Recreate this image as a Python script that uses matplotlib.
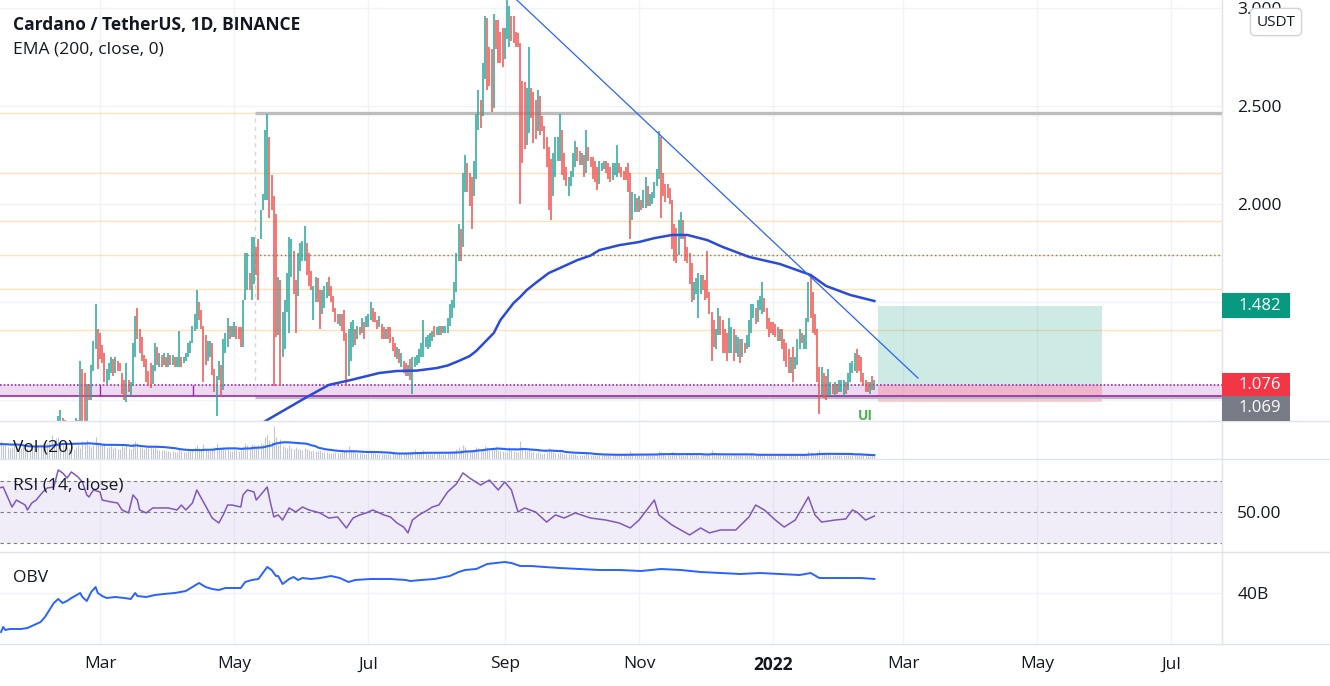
import numpy as np
import pandas as pd
import matplotlib
matplotlib.use("Agg")
import matplotlib.pyplot as plt
from matplotlib.patches import Rectangle
from matplotlib.lines import Line2D

plt.rcParams['font.family'] = ['Open Sans', 'DejaVu Sans']

start = pd.Timestamp("2021-01-01")

# daily ADA/USDT candles, one value per day from 1 Jan 2021
close = [
    0.18, 0.18, 0.20, 0.22, 0.26, 0.31, 0.33, 0.32, 0.30, 0.31, 0.30, 0.27, 0.29, 0.33, 0.36, 0.34, 0.37, 0.37, 0.36, 0.35, 0.31, 0.30, 0.33, 0.33, 0.35, 0.33, 0.34, 0.34, 0.36, 0.37, 0.39,
    0.40, 0.43, 0.45, 0.43, 0.49, 0.54, 0.68, 0.66, 0.72, 0.86, 0.90, 0.87, 0.86, 0.85, 0.86, 0.84, 0.86, 0.88, 0.87, 1.15, 0.95, 0.91, 1.04, 1.01, 1.16, 1.27, 1.34, 1.30,
    1.23, 1.20, 1.11, 1.12, 1.17, 1.19, 1.16, 1.19, 1.18, 1.16, 1.05, 1.04, 1.17, 1.06, 1.07, 1.27, 1.40, 1.33, 1.26, 1.21, 1.19, 1.10, 1.09, 1.08, 1.16, 1.27, 1.20, 1.22, 1.19, 1.21, 1.19,
    1.22, 1.19, 1.21, 1.19, 1.20, 1.33, 1.19, 1.21, 1.23, 1.27, 1.29, 1.35, 1.42, 1.45, 1.42, 1.37, 1.25, 1.21, 1.23, 1.24, 1.15, 1.06, 1.11, 1.18, 1.05, 1.27, 1.32, 1.39, 1.34, 1.36, 1.38,
    1.35, 1.34, 1.30, 1.48, 1.62, 1.70, 1.60, 1.78, 1.80, 1.69, 1.55, 1.94, 2.02, 2.32, 2.40, 2.05, 2.00, 1.55, 1.42, 1.58, 1.30, 1.38, 1.48, 1.60, 1.72, 1.74, 1.58, 1.52, 1.68, 1.76, 1.78,
    1.84, 1.70, 1.64, 1.56, 1.57, 1.60, 1.54, 1.45, 1.52, 1.55, 1.57, 1.55, 1.51, 1.47, 1.43, 1.40, 1.42, 1.37, 1.33, 1.20, 1.30, 1.35, 1.38, 1.31, 1.36, 1.34, 1.40, 1.36, 1.41, 1.42,
    1.47, 1.43, 1.41, 1.38, 1.40, 1.34, 1.33, 1.35, 1.32, 1.30, 1.27, 1.24, 1.25, 1.21, 1.22, 1.17, 1.14, 1.16, 1.12, 1.19, 1.21, 1.22, 1.25, 1.27, 1.30, 1.31, 1.32, 1.33, 1.34, 1.33, 1.36,
    1.37, 1.35, 1.36, 1.37, 1.40, 1.45, 1.48, 1.56, 1.72, 1.86, 1.78, 2.10, 2.18, 2.12, 2.05, 2.03, 2.15, 2.41, 2.52, 2.45, 2.66, 2.88, 2.75, 2.68, 2.55, 2.88, 2.82, 2.78, 2.76, 2.74, 2.86, 2.95,
    2.97, 2.88, 2.86, 2.84, 2.82, 2.40, 2.34, 2.31, 2.52, 2.55, 2.48, 2.40, 2.38, 2.50, 2.42, 2.40, 2.32, 2.22, 2.10, 2.04, 2.20, 2.28, 2.30, 2.38, 2.22, 2.16, 2.12, 2.13, 2.15, 2.22,
    2.28, 2.25, 2.23, 2.24, 2.18, 2.30, 2.24, 2.21, 2.16, 2.14, 2.10, 2.18, 2.20, 2.21, 2.18, 2.15, 2.13, 2.17, 2.19, 2.22, 2.17, 2.15, 2.13, 2.12, 2.08, 1.95, 2.02, 2.03, 1.98, 2.01, 1.99,
    2.04, 2.10, 2.02, 2.04, 2.05, 2.09, 2.15, 2.30, 2.08, 2.07, 2.04, 2.03, 2.01, 1.82, 1.78, 1.74, 1.86, 1.90, 1.85, 1.76, 1.73, 1.63, 1.55, 1.58, 1.60, 1.62, 1.63, 1.58, 1.55, 1.54,
    1.47, 1.38, 1.30, 1.33, 1.44, 1.36, 1.29, 1.27, 1.24, 1.30, 1.32, 1.25, 1.30, 1.31, 1.24, 1.27, 1.25, 1.30, 1.38, 1.45, 1.47, 1.43, 1.48, 1.50, 1.53, 1.47, 1.39, 1.36, 1.35, 1.34, 1.33,
    1.31, 1.33, 1.28, 1.23, 1.21, 1.19, 1.20, 1.16, 1.19, 1.28, 1.31, 1.30, 1.32, 1.40, 1.55, 1.47, 1.41, 1.36, 1.17, 1.05, 1.08, 1.05, 1.04, 1.05, 1.07, 1.05, 1.07, 1.05, 1.07, 1.08, 1.09,
    1.05, 1.12, 1.16, 1.18, 1.21, 1.18, 1.17, 1.11, 1.09, 1.07, 1.06, 1.08, 1.06, 1.069,
]
high = [
    0.19, 0.19, 0.21, 0.24, 0.27, 0.33, 0.36, 0.34, 0.33, 0.32, 0.32, 0.30, 0.30, 0.34, 0.38, 0.37, 0.38, 0.39, 0.38, 0.37, 0.36, 0.32, 0.34, 0.35, 0.36, 0.36, 0.35, 0.36, 0.37, 0.39, 0.41,
    0.42, 0.44, 0.47, 0.46, 0.50, 0.56, 0.70, 0.72, 0.74, 0.92, 0.95, 0.91, 0.90, 0.88, 0.89, 0.88, 0.89, 0.91, 0.90, 1.20, 1.16, 1.14, 1.08, 1.076, 1.18, 1.30, 1.49, 1.36,
    1.34, 1.28, 1.24, 1.16, 1.19, 1.22, 1.21, 1.22, 1.20, 1.19, 1.14, 1.10, 1.19, 1.10, 1.09, 1.29, 1.43, 1.47, 1.36, 1.32, 1.23, 1.21, 1.15, 1.19, 1.18, 1.29, 1.27, 1.24, 1.23, 1.24, 1.22,
    1.24, 1.23, 1.23, 1.22, 1.22, 1.35, 1.22, 1.22, 1.24, 1.29, 1.30, 1.38, 1.44, 1.56, 1.50, 1.46, 1.38, 1.33, 1.30, 1.30, 1.29, 1.16, 1.12, 1.20, 1.18, 1.31, 1.34, 1.42, 1.38, 1.38, 1.40,
    1.38, 1.37, 1.37, 1.51, 1.75, 1.75, 1.65, 1.83, 1.83, 1.78, 1.82, 1.97, 2.05, 2.38, 2.46, 2.34, 2.15, 2.04, 1.95, 1.63, 1.61, 1.45, 1.51, 1.65, 1.83, 1.82, 1.76, 1.61, 1.75, 1.80, 1.81,
    1.89, 1.80, 1.75, 1.66, 1.58, 1.63, 1.62, 1.56, 1.56, 1.58, 1.60, 1.63, 1.58, 1.53, 1.47, 1.44, 1.44, 1.44, 1.46, 1.34, 1.36, 1.40, 1.41, 1.36, 1.38, 1.37, 1.42, 1.40, 1.43, 1.44,
    1.50, 1.47, 1.45, 1.41, 1.43, 1.39, 1.37, 1.36, 1.37, 1.37, 1.32, 1.29, 1.27, 1.26, 1.24, 1.20, 1.19, 1.18, 1.21, 1.22, 1.22, 1.23, 1.26, 1.29, 1.41, 1.32, 1.33, 1.34, 1.35, 1.38, 1.37,
    1.38, 1.38, 1.38, 1.38, 1.42, 1.49, 1.51, 1.60, 1.75, 1.90, 1.87, 2.16, 2.25, 2.21, 2.16, 2.14, 2.22, 2.46, 2.58, 2.53, 2.72, 2.96, 2.95, 2.80, 2.79, 2.97, 2.94, 2.94, 2.88, 2.90, 2.90, 3.10,
    3.01, 2.96, 2.96, 2.88, 2.87, 2.82, 2.63, 2.62, 2.59, 2.80, 2.59, 2.57, 2.53, 2.58, 2.55, 2.45, 2.40, 2.34, 2.29, 2.23, 2.26, 2.34, 2.34, 2.46, 2.38, 2.26, 2.19, 2.14, 2.17, 2.26,
    2.32, 2.29, 2.27, 2.26, 2.25, 2.38, 2.29, 2.24, 2.24, 2.22, 2.19, 2.22, 2.21, 2.22, 2.22, 2.21, 2.19, 2.21, 2.21, 2.30, 2.21, 2.19, 2.17, 2.19, 2.21, 2.16, 2.06, 2.05, 2.03, 2.04, 2.02,
    2.07, 2.14, 2.09, 2.05, 2.06, 2.11, 2.18, 2.37, 2.34, 2.16, 2.10, 2.10, 2.08, 2.02, 1.90, 1.88, 1.92, 1.96, 1.92, 1.84, 1.78, 1.75, 1.70, 1.60, 1.62, 1.65, 1.64, 1.64, 1.61, 1.76,
    1.55, 1.45, 1.41, 1.36, 1.47, 1.43, 1.41, 1.36, 1.34, 1.42, 1.37, 1.36, 1.33, 1.32, 1.31, 1.31, 1.29, 1.33, 1.41, 1.49, 1.49, 1.47, 1.51, 1.53, 1.60, 1.52, 1.47, 1.42, 1.40, 1.40, 1.39,
    1.37, 1.36, 1.36, 1.31, 1.29, 1.26, 1.22, 1.27, 1.22, 1.31, 1.36, 1.34, 1.33, 1.42, 1.60, 1.64, 1.55, 1.44, 1.36, 1.17, 1.17, 1.14, 1.12, 1.16, 1.09, 1.08, 1.09, 1.08, 1.10, 1.10, 1.10,
    1.09, 1.14, 1.19, 1.20, 1.24, 1.26, 1.23, 1.22, 1.14, 1.10, 1.09, 1.09, 1.12, 1.10,
]
low = [
    0.17, 0.17, 0.18, 0.20, 0.22, 0.26, 0.30, 0.30, 0.28, 0.28, 0.28, 0.25, 0.26, 0.28, 0.33, 0.32, 0.33, 0.35, 0.34, 0.33, 0.30, 0.28, 0.29, 0.31, 0.32, 0.32, 0.32, 0.33, 0.33, 0.35, 0.36,
    0.38, 0.40, 0.43, 0.41, 0.43, 0.48, 0.54, 0.62, 0.65, 0.70, 0.82, 0.84, 0.82, 0.80, 0.83, 0.81, 0.83, 0.85, 0.84, 0.86, 0.85, 0.84, 0.88, 1.00, 1.00, 1.15, 1.26, 1.16,
    1.21, 1.19, 1.09, 1.08, 1.10, 1.14, 1.12, 1.14, 1.15, 1.15, 1.03, 1.00, 0.99, 1.04, 1.02, 1.07, 1.22, 1.31, 1.24, 1.20, 1.17, 1.09, 1.07, 1.06, 1.08, 1.15, 1.18, 1.17, 1.17, 1.18, 1.17,
    1.17, 1.18, 1.18, 1.17, 1.17, 1.17, 1.17, 1.19, 1.20, 1.22, 1.24, 1.29, 1.35, 1.36, 1.41, 1.36, 1.09, 1.18, 1.20, 1.22, 1.13, 1.04, 0.92, 1.10, 1.02, 1.05, 1.24, 1.27, 1.31, 1.32, 1.32,
    1.31, 1.31, 1.27, 1.27, 1.51, 1.56, 1.56, 1.51, 1.59, 1.64, 1.51, 1.82, 1.97, 2.02, 2.02, 1.93, 1.97, 1.07, 1.32, 1.33, 1.07, 1.22, 1.26, 1.45, 1.34, 1.63, 1.54, 1.34, 1.53, 1.66, 1.71,
    1.71, 1.64, 1.58, 1.56, 1.41, 1.50, 1.50, 1.36, 1.44, 1.47, 1.52, 1.53, 1.50, 1.45, 1.40, 1.39, 1.38, 1.35, 1.30, 1.07, 1.12, 1.20, 1.27, 1.28, 1.31, 1.33, 1.34, 1.31, 1.37, 1.37,
    1.41, 1.40, 1.40, 1.36, 1.37, 1.31, 1.31, 1.31, 1.31, 1.29, 1.25, 1.22, 1.21, 1.19, 1.17, 1.14, 1.12, 1.12, 1.10, 1.03, 1.17, 1.18, 1.19, 1.22, 1.22, 1.27, 1.26, 1.27, 1.30, 1.32, 1.33,
    1.33, 1.33, 1.34, 1.34, 1.34, 1.38, 1.42, 1.47, 1.55, 1.71, 1.71, 1.78, 2.06, 2.06, 1.99, 1.87, 2.04, 2.13, 2.38, 2.39, 2.45, 2.64, 2.58, 2.60, 2.47, 2.49, 2.79, 2.72, 2.72, 2.70, 2.74, 2.84,
    2.80, 2.83, 2.82, 2.80, 2.80, 2.00, 2.21, 2.28, 2.30, 2.36, 2.44, 2.31, 2.33, 2.37, 2.35, 2.37, 2.28, 2.19, 1.97, 1.92, 2.04, 2.14, 2.22, 2.22, 2.15, 2.12, 2.09, 2.04, 2.09, 2.14,
    2.19, 2.22, 2.20, 2.20, 2.14, 2.16, 2.22, 2.19, 2.13, 2.11, 2.07, 2.10, 2.17, 2.18, 2.16, 2.13, 2.11, 2.12, 2.15, 2.14, 2.16, 2.14, 2.12, 2.12, 2.06, 1.82, 1.92, 1.96, 1.96, 1.96, 1.97,
    1.98, 1.98, 1.99, 1.99, 2.00, 2.03, 2.09, 2.13, 1.93, 2.04, 2.01, 2.03, 2.00, 1.77, 1.71, 1.70, 1.74, 1.82, 1.82, 1.71, 1.70, 1.59, 1.50, 1.51, 1.54, 1.42, 1.54, 1.56, 1.51, 1.52,
    1.44, 1.20, 1.27, 1.26, 1.33, 1.33, 1.24, 1.24, 1.20, 1.24, 1.24, 1.20, 1.24, 1.22, 1.19, 1.22, 1.24, 1.26, 1.27, 1.34, 1.42, 1.39, 1.40, 1.46, 1.44, 1.45, 1.36, 1.32, 1.34, 1.33, 1.32,
    1.30, 1.30, 1.26, 1.20, 1.17, 1.14, 1.14, 1.09, 1.16, 1.18, 1.26, 1.29, 1.26, 1.26, 1.40, 1.42, 1.34, 1.33, 1.09, 0.93, 1.02, 1.01, 1.00, 1.02, 1.02, 1.03, 1.02, 1.03, 1.04, 1.04, 1.02,
    1.03, 1.05, 1.09, 1.14, 1.15, 1.14, 1.15, 1.09, 1.07, 1.04, 1.04, 1.03, 1.05, 1.05,
]
# daily volume (relative units)
volume = [
    11, 12, 14, 16, 19, 21, 18, 14, 13, 14, 12, 14, 13, 15, 18, 14, 14, 12, 11, 12, 15, 12, 10, 11, 13, 10, 11, 10, 11, 12, 13,
    14, 14, 16, 13, 16, 19, 24, 18, 21, 22, 18, 14, 13, 12, 11, 13, 10, 12, 14, 11, 18, 15, 19, 14, 12, 14, 22, 16,
    16, 14, 15, 12, 12, 13, 11, 12, 10, 10, 13, 12, 14, 11, 10, 16, 18, 15, 12, 11, 10, 12, 11, 12, 11, 14, 10, 9, 9, 9, 8,
    8, 7, 8, 7, 7, 10, 8, 7, 7, 8, 9, 10, 12, 14, 11, 9, 15, 10, 9, 8, 10, 12, 16, 10, 11, 12, 9, 10, 8, 8, 9,
    9, 8, 9, 12, 16, 14, 11, 15, 14, 12, 14, 16, 15, 22, 24, 19, 17, 33, 22, 14, 20, 13, 12, 11, 14, 11, 10, 12, 10, 10, 9,
    11, 10, 9, 8, 9, 8, 8, 9, 7, 7, 7, 6, 6, 6, 7, 6, 6, 7, 8, 9, 13, 10, 8, 7, 6, 6, 6, 5, 5, 6,
    7, 6, 6, 5, 5, 5, 5, 5, 5, 5, 6, 5, 5, 6, 5, 6, 6, 6, 7, 8, 10, 7, 6, 6, 9, 6, 5, 5, 5, 6, 6,
    6, 5, 5, 5, 6, 7, 7, 8, 10, 12, 10, 14, 12, 9, 8, 8, 9, 12, 11, 8, 10, 13, 12, 9, 9, 11, 13, 9, 8, 8, 7, 8,
    12, 9, 8, 7, 7, 18, 12, 9, 8, 9, 7, 7, 6, 7, 6, 5, 6, 7, 11, 9, 7, 6, 6, 7, 6, 5, 5, 5, 5, 5,
    5, 4, 4, 4, 4, 6, 5, 4, 4, 4, 4, 4, 4, 4, 4, 4, 4, 4, 4, 5, 4, 4, 4, 4, 4, 8, 6, 5, 4, 4, 4,
    4, 5, 4, 4, 4, 4, 5, 8, 7, 5, 4, 4, 4, 7, 6, 5, 5, 4, 4, 4, 5, 5, 4, 4, 5, 4, 4, 4, 4, 4,
    5, 9, 6, 5, 5, 4, 4, 4, 4, 4, 4, 5, 4, 4, 4, 4, 4, 4, 4, 5, 5, 4, 4, 4, 5, 4, 4, 4, 4, 4, 4,
    4, 4, 4, 5, 4, 4, 4, 5, 4, 4, 4, 4, 4, 5, 8, 7, 5, 4, 7, 9, 6, 5, 5, 5, 4, 4, 4, 4, 4, 4, 4,
    4, 4, 4, 4, 4, 5, 4, 4, 4, 4, 3, 3, 3, 3,
]

# EMA(200): day offset from 1 Jan 2021, value
ema_day = [125, 135, 153, 163, 173, 186, 194, 203, 212, 217, 222, 227, 230, 234, 238, 241, 247, 250,
           253, 257, 263, 268, 276, 282, 286, 295, 304, 311, 319, 326, 335, 342, 354, 368, 382, 389,
           400, 411]
ema_val = [0.83, 0.898, 1.015, 1.077, 1.102, 1.138, 1.148, 1.150, 1.163, 1.176, 1.199, 1.224, 1.250,
           1.296, 1.342, 1.408, 1.495, 1.526, 1.561, 1.597, 1.648, 1.673, 1.714, 1.737, 1.765, 1.790,
           1.806, 1.826, 1.842, 1.842, 1.816, 1.781, 1.730, 1.694, 1.638, 1.582, 1.536, 1.505]

# RSI(14)
rsi_day = [13, 15, 19, 21, 25, 26, 28, 30, 33, 35, 38, 40, 42, 44, 46, 49, 51, 53, 54, 56, 59, 60,
           64, 67, 69, 72, 74, 76, 77, 80, 83, 86, 90, 94, 96, 98, 101, 103, 106, 108, 110, 113, 115,
           117, 119, 123, 124, 126, 129, 130, 132, 135, 136, 138, 140, 142, 145, 148, 151, 154, 159,
           163, 167, 171, 174, 177, 180, 183, 188, 191, 194, 197, 199, 201, 204, 208, 210, 213, 217,
           218, 221, 224, 227, 232, 236, 240, 243, 246, 249, 252, 257, 262, 266, 270, 275, 282, 289,
           295, 300, 304, 311, 313, 319, 323, 327, 332, 336, 341, 348, 354, 357, 361, 366, 370, 375,
           381, 384, 387, 393, 398, 401, 403, 407, 411]
rsi_val = [65.5, 66.1, 53.2, 57.7, 54.5, 51.3, 55.8, 57.7, 62.9, 65.5, 66.1, 77.1, 75.2, 71.9, 75.8,
           72.6, 69.4, 61.0, 59.7, 64.2, 62.9, 57.7, 56.5, 55.8, 51.3, 49.4, 61.0, 57.7, 51.3, 49.4,
           52.6, 52.6, 52.6, 51.3, 54.5, 51.3, 55.8, 64.2, 56.5, 51.3, 46.1, 42.9, 48.1, 54.5, 54.5,
           53.2, 61.0, 64.2, 62.9, 57.7, 61.0, 66.1, 59.0, 46.8, 48.1, 44.8, 52.6, 50.0, 53.2, 51.3,
           49.4, 46.1, 46.8, 39.7, 46.1, 48.1, 49.4, 51.3, 48.1, 46.8, 42.9, 40.3, 36.5, 44.8, 48.1,
           51.3, 53.2, 54.5, 62.9, 64.2, 68.1, 75.2, 71.9, 67.4, 70.6, 64.2, 69.4, 64.2, 50.0, 52.6,
           50.0, 43.5, 48.1, 46.1, 49.4, 46.1, 44.8, 42.9, 39.7, 44.8, 57.7, 48.1, 41.6, 38.4, 35.2,
           39.7, 36.5, 38.4, 38.4, 46.8, 54.5, 51.3, 44.8, 40.3, 44.8, 59.7, 48.1, 43.5, 44.8, 45.5,
           51.3, 50.0, 44.8, 47.4]

# OBV (billions)
obv_day = [14, 15, 16, 18, 23, 26, 30, 32, 34, 36, 38, 40, 42, 44, 46, 50, 51, 53, 55, 57, 58, 60, 62,
           66, 70, 73, 75, 76, 80, 84, 88, 93, 98, 101, 104, 107, 110, 113, 116, 120, 123, 125, 128,
           131, 133, 135, 137, 139, 140, 142, 145, 147, 149, 151, 155, 159, 164, 168, 172, 175, 182,
           191, 198, 200, 205, 211, 218, 222, 225, 230, 233, 235, 239, 243, 246, 250, 255, 261, 268,
           277, 286, 295, 305, 314, 323, 332, 341, 350, 359, 368, 377, 382, 386, 395, 405, 411]
obv_val = [20.5, 23, 21.5, 22, 22, 22.5, 24.5, 25.5, 28, 31.5, 35, 37, 35, 36, 37.5, 40, 38, 36, 40.5,
           43, 40, 38.5, 37.5, 38, 37.5, 37, 40, 38.5, 38, 39, 39.5, 40, 41, 43, 45, 43, 42, 41.5,
           42.5, 42.5, 42.5, 45.5, 46.5, 47, 50, 53, 51.5, 48.5, 48.5, 44.5, 47, 48, 46.5, 47.5, 47,
           47.5, 48.5, 47.5, 45.5, 46.5, 47, 47, 46.5, 46, 46.5, 47, 48.5, 50.5, 51.5, 52, 53.5,
           54.5, 55, 55.5, 55, 53.5, 53.5, 53, 52.5, 52, 51.5, 51.5, 51, 52, 51.5, 50.5, 50, 49.5,
           50, 49.5, 49, 50, 47.5, 47.5, 47.5, 47]

# drawings
fib_levels = [2.464, 2.158, 1.913, 1.74, 1.566, 1.357]
range_top, range_bottom, range_start = 2.464, 1.0153, 129.5
dotted_level, dotted_start = 1.74, 125.8
zone_top, zone_bottom = 1.076, 1.0204
trend = ([244, 430.8], [3.088, 1.112])
entry, target, stop = 1.076, 1.482, 0.99
pos_start, pos_end = 412.6, 514.5

tick_dates = ["2021-03-01", "2021-05-01", "2021-07-01", "2021-09-01", "2021-11-01",
              "2022-01-01", "2022-03-01", "2022-05-01", "2022-07-01"]
tick_labels = ["Mar", "May", "Jul", "Sep", "Nov", "2022", "Mar", "May", "Jul"]

# ---------------------------------------------------------------
W, H = 1330, 686
fig = plt.figure(figsize=(W / 100, H / 100), dpi=100)
fig.patch.set_facecolor("white")

def fx(px):
    return px / W

def fy(py):
    return 1 - py / H

def pane(top, bottom):
    return [0, fy(bottom), fx(1222), (bottom - top) / H]

ax_p = fig.add_axes(pane(0, 421))
ax_v = fig.add_axes(pane(421, 459), sharex=ax_p)
ax_r = fig.add_axes(pane(459, 552), sharex=ax_p)
ax_o = fig.add_axes(pane(552, 644), sharex=ax_p)

days = np.arange(len(close))
c = pd.Series(close)
up = c.diff().fillna(0) >= 0
green, red = "#26a69a", "#ef5350"
cols = np.where(up, green, red)

tick_days = [(pd.Timestamp(d) - start).days for d in tick_dates]
xl = tick_days[0] - 100 / 2.2
xr = xl + 1222 / 2.2

text_c = "#131722"
grid_c = "#f0f3fa"
fs = 12.5
for ax in (ax_p, ax_v, ax_r, ax_o):
    for s in ax.spines.values():
        s.set_visible(False)
    ax.set_xlim(xl, xr)
    ax.set_xticks(tick_days)
    ax.grid(axis="x", color=grid_c, lw=1)
    ax.tick_params(axis="both", length=0, labelsize=fs, labelcolor=text_c)
    ax.tick_params(axis="x", labelbottom=False)
    ax.yaxis.tick_right()
    ax.set_axisbelow(True)

# price pane
ax_p.set_ylim(0.8929, 3.0408)
ax_p.set_yticks([1.0, 1.5, 2.0, 2.5, 3.0])
ax_p.set_yticklabels(["", "", "2.000", "2.500", "3.000"])
ax_p.tick_params(axis="y", pad=11)
ax_p.grid(axis="y", color=grid_c, lw=1)

for lv in fib_levels:
    ax_p.axhline(lv, color="#ff9800", alpha=0.28, lw=1)
ax_p.hlines(dotted_level, dotted_start, xr + 10, color="#787b86", ls=(0, (1, 2)), lw=1)
ax_p.hlines([range_top, range_bottom], range_start, xr + 10, color="#bdbdbd", lw=2.4)
ax_p.vlines(range_start, range_bottom, range_top, color="#d6d6d6", ls=(0, (3, 3)), lw=1)

ax_p.axhspan(zone_bottom, zone_top, color="#ce93d8", alpha=0.35, lw=0)
ax_p.axhline(zone_top, color="#9c27b0", ls=(0, (1, 1.2)), lw=1.2)
ax_p.axhline(zone_bottom, color="#9c27b0", lw=1.2)
ax_p.vlines([59, 101.3], zone_bottom, zone_top, color="#9c27b0", lw=1)

ax_p.add_patch(Rectangle((pos_start, entry), pos_end - pos_start, target - entry,
                         facecolor="#089981", alpha=0.2, lw=0))
ax_p.add_patch(Rectangle((pos_start, stop), pos_end - pos_start, entry - stop,
                         facecolor="#f23645", alpha=0.22, lw=0))

ax_p.vlines(days, low, high, colors=cols, lw=1.1, zorder=3)
ax_p.plot(ema_day, ema_val, color="#2a4bd7", lw=1.8, zorder=4, solid_joinstyle="round")
ax_p.plot(trend[0], trend[1], color="#2962ff", lw=0.9, zorder=4)
ax_p.text(407, 0.952, "UI", color="#4caf50", fontsize=10, fontweight="bold",
          ha="center", va="top", zorder=5)

# volume pane
vol = pd.Series(volume)
ax_v.set_ylim(0, 38)
ax_v.set_yticks([])
ax_v.vlines(days, 0, vol, colors="#c3c6ce", lw=0.8)
ax_v.plot(days, vol.rolling(20, min_periods=1).mean(), color="#2962ff", lw=1.5)

# RSI pane
ax_r.set_ylim(24.19, 84.19)
ax_r.set_yticks([50])
ax_r.set_yticklabels(["50.00"])
ax_r.tick_params(axis="y", pad=11)
ax_r.axhspan(30, 70, color="#7e57c2", alpha=0.1, lw=0)
for lv in (30, 50, 70):
    ax_r.axhline(lv, color="#787b86", ls=(0, (3, 3)), lw=0.8)
ax_r.plot(rsi_day, rsi_val, color="#7e57c2", lw=1.1)

# OBV pane
ax_o.set_ylim(14.5, 60.5)
ax_o.set_yticks([40])
ax_o.set_yticklabels(["40B"])
ax_o.tick_params(axis="y", pad=11)
ax_o.grid(axis="y", color=grid_c, lw=1)
ax_o.plot(obv_day, obv_val, color="#2962ff", lw=1.4)
ax_o.tick_params(axis="x", labelbottom=True, pad=9)
ax_o.set_xticklabels(tick_labels)
ax_o.get_xticklabels()[5].set_fontweight("bold")

# pane separators
for py in (421, 459, 552, 644):
    fig.add_artist(Line2D([0, 1], [fy(py), fy(py)], transform=fig.transFigure,
                          color="#e0e3eb", lw=1))
fig.add_artist(Line2D([fx(1222), fx(1222)], [fy(0), fy(644)], transform=fig.transFigure,
                      color="#e0e3eb", lw=1))

# legends
fig.text(fx(13), fy(25), "Cardano / TetherUS, 1D, BINANCE", fontsize=fs,
         fontweight="bold", color=text_c, va="center")
fig.text(fx(13), fy(50), "EMA (200, close, 0)", fontsize=fs, color=text_c, va="center")
fig.text(fx(13), fy(447), "Vol (20)", fontsize=fs, color=text_c, va="center")
fig.text(fx(13), fy(486), "RSI (14, close)", fontsize=fs, color=text_c, va="center")
fig.text(fx(13), fy(578), "OBV", fontsize=fs, color=text_c, va="center")

fig.text(fx(1276), fy(22), "USDT", fontsize=11, color=text_c, ha="center", va="center",
         zorder=6, bbox=dict(boxstyle="round,pad=0.4,rounding_size=0.3", fc="white",
                             ec="#d1d4dc", lw=1))

# price tags on the right scale
def tag(val, color, shift=0):
    yc = ax_p.transData.transform((0, val))[1] / fig.bbox.height - shift / H
    fig.add_artist(Rectangle((fx(1222), yc - 12.5 / H), 68 / W, 25 / H,
                             transform=fig.transFigure, facecolor=color, lw=0, zorder=5))
    fig.text(fx(1260), yc, f"{val:.3f}", color="white", fontsize=12, ha="center",
             va="center", zorder=6)

tag(target, "#089981")
tag(entry, "#f23645")
tag(close[-1], "#787b86", shift=22)

fig.savefig("out.png", dpi=100)
